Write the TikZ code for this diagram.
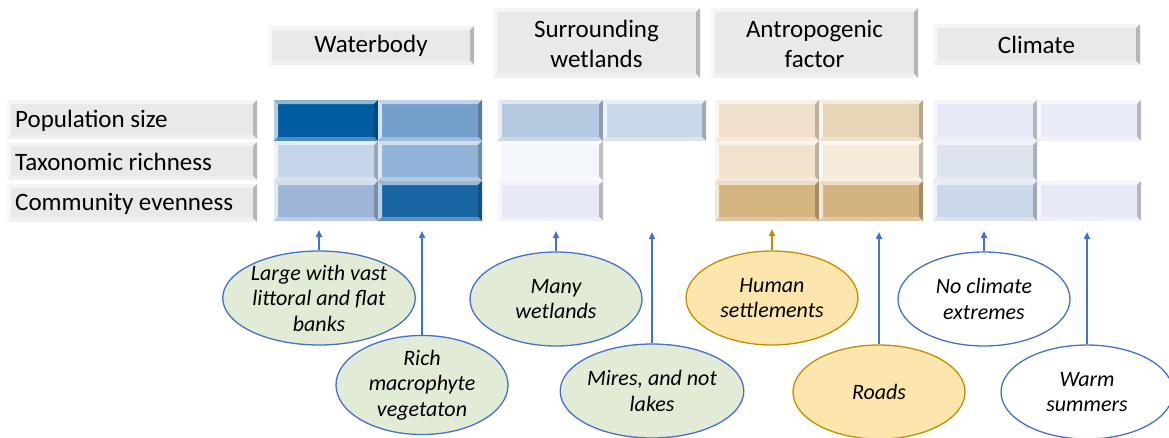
\documentclass[tikz,border=0pt]{standalone}
\usepackage{fontspec}
\setmainfont{Carlito}
\usetikzlibrary{arrows.meta,shapes.geometric}

\definecolor{boxgray}{HTML}{E9E9E9}
\definecolor{linkblue}{HTML}{4472C4}
\definecolor{linkorange}{HTML}{BF8F00}
\definecolor{notegreen}{HTML}{E2EBD6}
\definecolor{noteorange}{HTML}{FDE6AE}
% waterbody cells
\definecolor{wbA}{HTML}{005CA0}\definecolor{wbB}{HTML}{749FCB}
\definecolor{wbC}{HTML}{C5D5EA}\definecolor{wbD}{HTML}{91B3D7}
\definecolor{wbE}{HTML}{9DB6D8}\definecolor{wbF}{HTML}{1A65A3}
% surrounding wetlands cells
\definecolor{swA}{HTML}{B4C8E0}\definecolor{swB}{HTML}{C9D9EB}
\definecolor{swC}{HTML}{F3F6FB}\definecolor{swE}{HTML}{E6E9F5}
% antropogenic cells
\definecolor{afA}{HTML}{F1E1CC}\definecolor{afB}{HTML}{E7D5B8}
\definecolor{afC}{HTML}{F1E2CE}\definecolor{afD}{HTML}{F6EADB}
\definecolor{afE}{HTML}{D4B47F}\definecolor{afF}{HTML}{D3B37F}
% climate cells
\definecolor{clA}{HTML}{E6E9F5}\definecolor{clB}{HTML}{E8EAF5}
\definecolor{clC}{HTML}{DDE4EE}
\definecolor{clE}{HTML}{CAD8EA}\definecolor{clF}{HTML}{E6E9F5}

\def\bv{4}
% x1,y1,x2,y2,colour
\newcommand\bevelrect[5]{%
  \fill[#5] (#1,#2) rectangle (#3,#4);
  \fill[#5!45!white] (#1,#2) -- (#3,#2) -- (#3-\bv,#2+\bv) -- (#1+\bv,#2+\bv) -- cycle;
  \fill[#5!30!white] (#1,#2) -- (#1+\bv,#2+\bv) -- (#1+\bv,#4-\bv) -- (#1,#4) -- cycle;
  \fill[#5!78!black] (#3,#2) -- (#3,#4) -- (#3-\bv,#4-\bv) -- (#3-\bv,#2+\bv) -- cycle;
  \fill[#5!70!white] (#1,#4) -- (#3,#4) -- (#3-\bv,#4-\bv) -- (#1+\bv,#4-\bv) -- cycle;
}

\tikzset{
  hdr/.style={font=\fontsize{25}{30}\selectfont, align=center, inner sep=0pt},
  rowlab/.style={font=\fontsize{25}{30}\selectfont, anchor=west, inner sep=0pt},
  note/.style={ellipse, draw=linkblue, line width=1.3pt, minimum width=172pt,
    minimum height=94pt, inner sep=0pt, align=center,
    font=\fontsize{22}{25.5}\selectfont\itshape},
  greennote/.style={note, fill=notegreen},
  orangenote/.style={note, fill=noteorange, draw=linkorange},
  whitenote/.style={note, fill=white},
  link/.style={-{Triangle[length=7pt,width=6pt]}, line width=1.6pt, draw=linkblue},
}

\begin{document}
\begin{tikzpicture}[x=1pt,y=-1pt]
  \useasboundingbox (0,0) rectangle (1169,437);

  % header boxes
  \bevelrect{268}{26}{474}{65}{boxgray}
  \bevelrect{493}{8}{700}{78}{boxgray}
  \bevelrect{711}{8}{918}{78}{boxgray}
  \bevelrect{933}{24}{1140}{65}{boxgray}
  \node[hdr] (hWater) at (371,46) {Waterbody};
  \node[hdr] (hWet) at (596.5,44) {Surrounding\\wetlands};
  \node[hdr] (hAnthro) at (814.5,44) {Antropogenic\\factor};
  \node[hdr] (hClim) at (1036.5,45) {Climate};

  % row labels
  \bevelrect{7}{100}{257}{139}{boxgray}
  \bevelrect{7}{142}{257}{180}{boxgray}
  \bevelrect{7}{184}{257}{222}{boxgray}
  \node[rowlab] (rPop) at (15,121) {Population size};
  \node[rowlab] (rTax) at (15,162) {Taxonomic richness};
  \node[rowlab] (rEven) at (15,204) {Community evenness};

  % waterbody
  \bevelrect{274}{100}{378}{141}{wbA}
  \bevelrect{378}{100}{482}{141}{wbB}
  \bevelrect{274}{141}{378}{181}{wbC}
  \bevelrect{378}{141}{482}{181}{wbD}
  \bevelrect{274}{181}{378}{221}{wbE}
  \bevelrect{378}{181}{482}{221}{wbF}
  % surrounding wetlands
  \bevelrect{498}{100}{603}{141}{swA}
  \bevelrect{603}{100}{706}{141}{swB}
  \bevelrect{498}{141}{603}{181}{swC}
  \bevelrect{498}{181}{603}{221}{swE}
  % antropogenic factor
  \bevelrect{715}{100}{819}{141}{afA}
  \bevelrect{819}{100}{923}{141}{afB}
  \bevelrect{715}{141}{819}{181}{afC}
  \bevelrect{819}{141}{923}{181}{afD}
  \bevelrect{715}{181}{819}{221}{afE}
  \bevelrect{819}{181}{923}{221}{afF}
  % climate
  \bevelrect{933}{100}{1037}{141}{clA}
  \bevelrect{1037}{100}{1141}{141}{clB}
  \bevelrect{933}{141}{1037}{181}{clC}
  \bevelrect{933}{181}{1037}{221}{clE}
  \bevelrect{1037}{181}{1141}{221}{clF}

  % notes
  \node[greennote] (eLarge) at (319,298) {Large with vast\\littoral and flat\\banks};
  \node[greennote] (eRich) at (422,385) {Rich\\macrophyte\\vegetaton};
  \node[greennote] (eMany) at (556,299) {Many\\wetlands};
  \node[greennote] (eMires) at (652,391) {Mires, and not\\lakes};
  \node[orangenote] (eHuman) at (772,298) {Human\\settlements};
  \node[orangenote] (eRoads) at (879,392) {Roads};
  \node[whitenote] (eNoClim) at (984,299) {No climate\\extremes};
  \node[whitenote] (eWarm) at (1087,392) {Warm\\summers};

  % arrow ends under the cells
  \coordinate (tLarge) at (319,230);
  \coordinate (tRich) at (422,231);
  \coordinate (tMany) at (556,231);
  \coordinate (tMires) at (652,232);
  \coordinate (tHuman) at (772,229);
  \coordinate (tRoads) at (879,232);
  \coordinate (tNoClim) at (984,231);
  \coordinate (tWarm) at (1087,232);

  \draw[link] (eLarge) -- (tLarge);
  \draw[link] (eRich) -- (tRich);
  \draw[link] (eMany) -- (tMany);
  \draw[link] (eMires) -- (tMires);
  \draw[link, draw=linkorange] (eHuman) -- (tHuman);
  \draw[link] (eRoads) -- (tRoads);
  \draw[link] (eNoClim) -- (tNoClim);
  \draw[link] (eWarm) -- (tWarm);
\end{tikzpicture}
\end{document}
